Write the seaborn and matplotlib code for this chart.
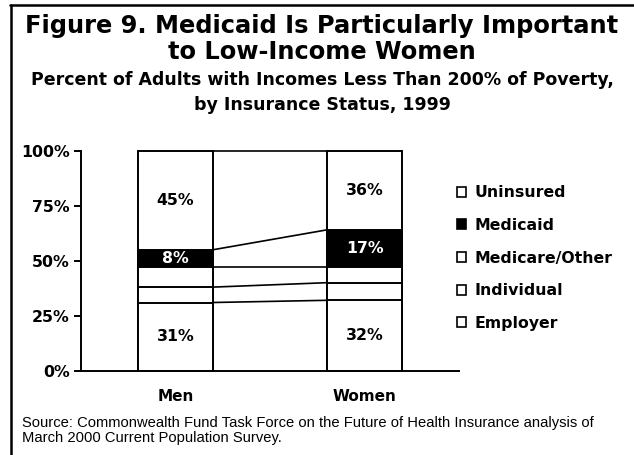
import numpy as np
import pandas as pd
import matplotlib
matplotlib.use("Agg")
import matplotlib.pyplot as plt
import seaborn as sns
from matplotlib.patches import Patch
from matplotlib.lines import Line2D

# Insurance status of low-income adults (% of group), 1999
groups = ["Men", "Women"]
series = ["Employer", "Individual", "Medicare/Other", "Medicaid", "Uninsured"]
employer = [31, 32]
individual = [7, 8]
medicare_other = [9, 7]
medicaid = [8, 17]
uninsured = [45, 36]
fills = ["white", "white", "white", "black", "white"]
label_colors = {"Employer": "black", "Medicaid": "white", "Uninsured": "black"}
y_ticks = [0, 25, 50, 75, 100]
y_tick_labels = ["0%", "25%", "50%", "75%", "100%"]
legend_order = ["Uninsured", "Medicaid", "Medicare/Other", "Individual", "Employer"]

sns.set_style("white")
plt.rcParams["font.family"] = ["DejaVu Sans"]
for key in ["text.color", "axes.labelcolor", "xtick.color", "ytick.color"]:
    plt.rcParams[key] = "black"
HEAVY = "bold"
LBL = 11.3

values = np.array([employer, individual, medicare_other, medicaid, uninsured])
tops = values.cumsum(axis=0)
bottoms = tops - values
bar_w = 0.4

fig = plt.figure(figsize=(6.34, 4.55), dpi=100)
ax = fig.add_axes([81 / 634, 1 - 370.7 / 455, 378 / 634, 220 / 455])

# stacked bars: draw cumulative totals from the top layer down
for i in reversed(range(len(series))):
    df = pd.DataFrame({"group": groups, "top": tops[i]})
    sns.barplot(data=df, x="group", y="top", ax=ax, width=bar_w,
                color=fills[i], saturation=1, edgecolor="black",
                linewidth=1.4, errorbar=None)
for p in ax.patches:
    p.set_clip_on(False)

# series lines joining the segment boundaries of the two bars
for i in range(len(series)):
    ax.plot([0 + bar_w / 2, 1 - bar_w / 2], [tops[i][0], tops[i][1]],
            color="black", lw=1.2, clip_on=False, zorder=3)

# segment value labels
for i, name in enumerate(series):
    if name not in label_colors:
        continue
    for j in range(len(groups)):
        ax.text(j, bottoms[i][j] + values[i][j] / 2, f"{values[i][j]}%",
                ha="center", va="center", color=label_colors[name],
                fontsize=LBL, fontweight=HEAVY, zorder=4)

ax.set_xlim(-0.5, 1.5)
ax.set_ylim(0, 100)
ax.set_yticks(y_ticks)
ax.set_yticklabels(y_tick_labels, fontsize=LBL, fontweight=HEAVY)
ax.set_xticks([0, 1])
ax.set_xticklabels(groups, fontsize=11, fontweight=HEAVY)
ax.set_xticks([-0.5, 0.5, 1.5], minor=True)
ax.tick_params(axis="x", which="major", length=0, pad=13)
ax.tick_params(axis="x", which="minor", length=5, width=1.4, direction="out", color="black")
ax.tick_params(axis="y", length=5, width=1.4, direction="out", color="black", pad=3, left=True)
ax.set_xlabel("")
ax.set_ylabel("")
for side in ["top", "right"]:
    ax.spines[side].set_visible(False)
for side in ["left", "bottom"]:
    ax.spines[side].set_color("black")
    ax.spines[side].set_linewidth(1.4)

# legend
handles = [Patch(facecolor=fills[series.index(n)], edgecolor="black", linewidth=1.2)
           for n in legend_order]
fig.legend(handles, legend_order, loc="center left",
           bbox_to_anchor=(457 / 634, 1 - 258 / 455), frameon=False,
           prop={"size": LBL, "weight": HEAVY}, handlelength=0.6, handleheight=0.6,
           handletextpad=0.5, labelspacing=1.12, borderpad=0, borderaxespad=0)

# titles
fig.text(322 / 634, 1 - 33 / 455, "Figure 9. Medicaid Is Particularly Important",
         ha="center", va="baseline", fontsize=17.4, fontweight=HEAVY)
fig.text(322 / 634, 1 - 59 / 455, "to Low-Income Women",
         ha="center", va="baseline", fontsize=17.4, fontweight=HEAVY)
fig.text(322 / 634, 1 - 85 / 455,
         "Percent of Adults with Incomes Less Than 200% of Poverty,",
         ha="center", va="baseline", fontsize=12.5, fontweight=HEAVY)
fig.text(322 / 634, 1 - 110 / 455, "by Insurance Status, 1999",
         ha="center", va="baseline", fontsize=12.5, fontweight=HEAVY)

# source note
src_font = ["Liberation Sans", "DejaVu Sans"]
fig.text(22 / 634, 1 - 427 / 455,
         "Source: Commonwealth Fund Task Force on the Future of Health Insurance analysis of",
         ha="left", va="baseline", fontsize=10.6, family=src_font)
fig.text(22 / 634, 1 - 442 / 455, "March 2000 Current Population Survey.",
         ha="left", va="baseline", fontsize=10.6, family=src_font)

# frame rules along the top and left edge
fig.add_artist(Line2D([10.5 / 634, 10.5 / 634], [0, 1 - 5 / 455], color="black", lw=1.8))
fig.add_artist(Line2D([10 / 634, 1], [1 - 5 / 455, 1 - 5 / 455], color="black", lw=1.8))

fig.savefig("out.png", dpi=100, facecolor="white")
